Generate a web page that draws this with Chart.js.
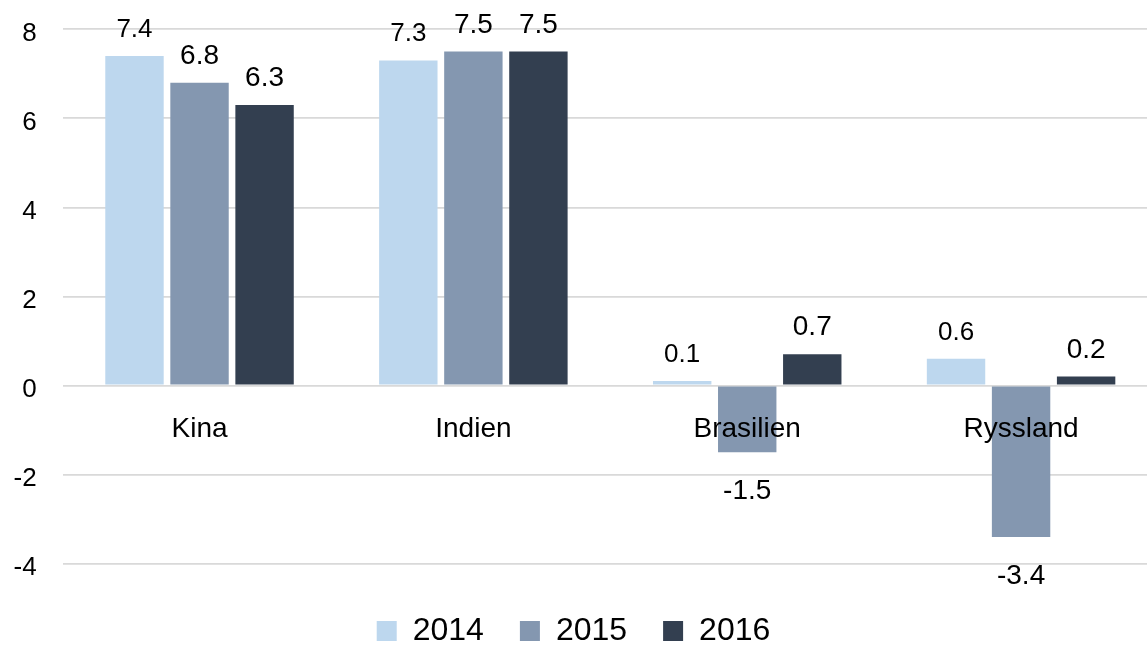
<!DOCTYPE html>
<html>
<head>
<meta charset="utf-8">
<title>BNP-tillväxt</title>
<script src="https://cdn.jsdelivr.net/npm/chart.js@4.4.1/dist/chart.umd.min.js"></script>
<style>
  html, body { margin: 0; padding: 0; background: #fff; overflow: hidden; }
  #wrap { width: 1147px; height: 645px; overflow: hidden; }
  #chart { display: block; }
</style>
</head>
<body>
<div id="wrap"><canvas id="chart" width="1158" height="645"></canvas></div>
<script>
const categories = ['Kina', 'Indien', 'Brasilien', 'Ryssland'];
const years = ['2014', '2015', '2016'];
const values2014 = [7.4, 7.3, 0.1, 0.6];
const values2015 = [6.8, 7.5, -1.5, -3.4];
const values2016 = [6.3, 7.5, 0.7, 0.2];
const yTicks = [-4, -2, 0, 2, 4, 6, 8];
const colors = ['#BDD7EE', '#8497B0', '#333F50'];
const FONT = "'Liberation Sans', Arial, sans-serif";
const VISIBLE_WIDTH = 1147;

// value labels above (or below for negatives) each bar
const valueLabels = {
    id: 'valueLabels',
    afterDatasetsDraw(chart) {
        const ctx = chart.ctx;
        ctx.save();
        ctx.textAlign = 'center';
        ctx.textBaseline = 'alphabetic';
        ctx.fillStyle = '#000';
        chart.data.datasets.forEach(function (ds, i) {
            const size = i === 0 ? 26 : 28;
            ctx.font = size + 'px ' + FONT;
            chart.getDatasetMeta(i).data.forEach(function (bar, j) {
                const v = ds.data[j];
                const y = v < 0 ? bar.y + 47 : bar.y - 19;
                ctx.fillText(v.toFixed(1), bar.x, y);
            });
        });
        ctx.restore();
    }
};

// the plot area runs past the visible edge, keep the legend centred on what is shown
const legendCentre = {
    id: 'legendCentre',
    afterLayout(chart) {
        chart.legend.right = VISIBLE_WIDTH;
    }
};

const datasets = [values2014, values2015, values2016].map(function (vals, i) {
    return {
        label: years[i],
        data: vals,
        backgroundColor: colors[i],
        categoryPercentage: 0.7125,
        barPercentage: 0.898
    };
});

new Chart(document.getElementById('chart'), {
    type: 'bar',
    data: { labels: categories, datasets: datasets },
    plugins: [valueLabels, legendCentre],
    options: {
        responsive: false,
        animation: false,
        layout: { padding: { top: 29.3, left: 0, right: 0, bottom: -12 } },
        plugins: {
            legend: {
                position: 'bottom',
                labels: {
                    boxWidth: 20,
                    boxHeight: 20,
                    padding: 36,
                    color: '#000',
                    font: { family: FONT, size: 32 }
                },
                title: {
                    display: true,
                    text: '',
                    padding: { top: 14.4, bottom: 0 },
                    font: { size: 1, lineHeight: 1 }
                }
            },
            tooltip: { enabled: false }
        },
        scales: {
            x: {
                position: { y: 0 },
                grid: { display: false, drawTicks: false },
                border: { display: false },
                // category names sit on top of the bars
                ticks: { z: 1, color: '#000', font: { family: FONT, size: 28 }, padding: 27 }
            },
            y: {
                min: -4,
                max: 8,
                afterBuildTicks: function (scale) {
                    scale.ticks = yTicks.map(function (v) { return { value: v }; });
                },
                afterFit: function (scale) {
                    scale.width = 62.6;
                    scale.paddingTop = 0;
                    scale.paddingBottom = 0;
                },
                grid: { color: '#D9D9D9', lineWidth: 1.8, drawTicks: false },
                border: { display: false },
                ticks: { color: '#000', font: { family: FONT, size: 26 }, padding: 26, labelOffset: 4.5 }
            }
        }
    }
});
</script>
</body>
</html>
